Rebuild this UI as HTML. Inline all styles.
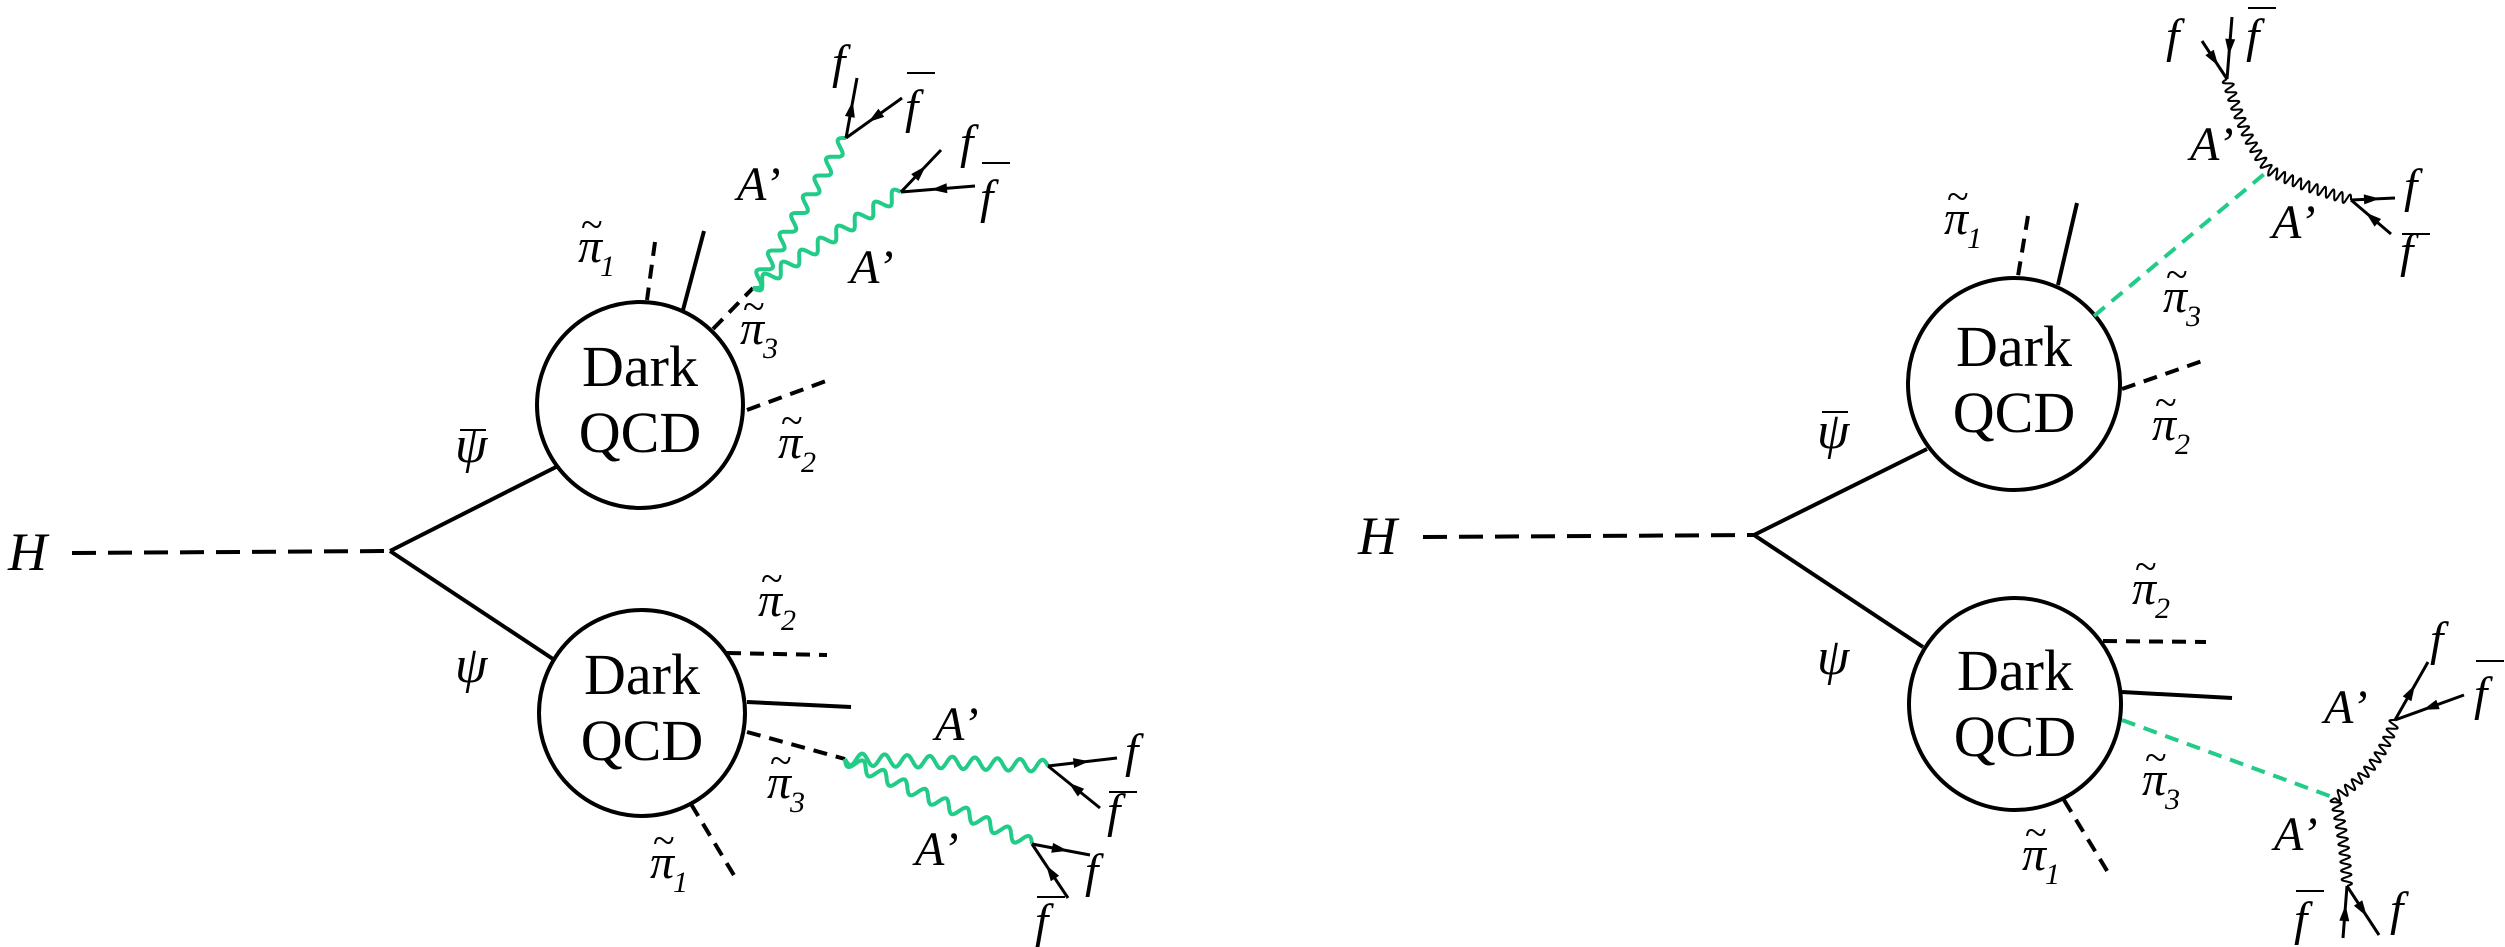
<!DOCTYPE html>
<html><head><meta charset="utf-8"><style>
html,body{margin:0;padding:0;background:#fff}
svg{display:block;font-family:"Liberation Serif","DejaVu Serif",serif}
svg text{font-family:"Liberation Serif","DejaVu Serif",serif;fill:#000}
.i{font-style:italic;font-size:48px}
.s{font-style:italic;font-size:30px}
.t{font-size:40px}
.q{font-size:58px}
</style></head><body>
<svg id="s" width="2505" height="947" viewBox="0 0 2505 947" xmlns="http://www.w3.org/2000/svg">
<g stroke="#000" stroke-width="4" fill="none">
<line x1="72" y1="553" x2="390" y2="551" stroke-dasharray="24,12"/>
<line x1="390" y1="551" x2="558" y2="466"/>
<line x1="390" y1="551" x2="553" y2="659"/>
<circle cx="640" cy="405" r="103"/>
<circle cx="642" cy="713" r="103"/>
<line x1="655" y1="242" x2="647" y2="300" stroke-dasharray="14,9"/>
<line x1="704" y1="231" x2="683" y2="310"/>
<line x1="713" y1="329" x2="753" y2="288" stroke-dasharray="14,9"/>
<line x1="747" y1="410" x2="826" y2="381" stroke-dasharray="14,9"/>
<line x1="727" y1="653" x2="827" y2="655" stroke-dasharray="14,9"/>
<line x1="747" y1="702" x2="851" y2="707"/>
<line x1="747" y1="732" x2="845" y2="759" stroke-dasharray="14,9"/>
<line x1="691" y1="804" x2="735" y2="877" stroke-dasharray="14,9"/>
<line x1="1423" y1="537" x2="1754" y2="535" stroke-dasharray="24,12"/>
<line x1="1754" y1="535" x2="1927" y2="449"/>
<line x1="1754" y1="535" x2="1923" y2="647"/>
<circle cx="2014" cy="384" r="106"/>
<circle cx="2015" cy="704" r="106"/>
<line x1="2028" y1="216" x2="2018" y2="276" stroke-dasharray="14,9"/>
<line x1="2077" y1="203" x2="2058" y2="285"/>
<line x1="2094" y1="316" x2="2269" y2="170" stroke-dasharray="14,9" stroke="#22cc88"/>
<line x1="2122" y1="389" x2="2208" y2="359" stroke-dasharray="14,9"/>
<line x1="2103" y1="641" x2="2206" y2="642" stroke-dasharray="14,9"/>
<line x1="2122" y1="692" x2="2232" y2="698"/>
<line x1="2122" y1="720" x2="2335" y2="798" stroke-dasharray="14,9" stroke="#22cc88"/>
<line x1="2064" y1="800" x2="2109" y2="874" stroke-dasharray="14,9"/>
</g>
<g id="w"></g>
<g id="a"></g>
<text class="i" x="8" y="570" style="font-size:54px">H</text>
<text class="q" x="640" y="386" text-anchor="middle">Dark</text>
<text class="q" x="640" y="452" text-anchor="middle">QCD</text>
<text class="q" x="642" y="694" text-anchor="middle">Dark</text>
<text class="q" x="642" y="760" text-anchor="middle">QCD</text>
<text class="i" x="455" y="462" style="font-size:52px">ψ</text><line x1="460" y1="430" x2="486" y2="430" stroke="#000" stroke-width="2"/>
<text class="i" x="455" y="682" style="font-size:52px">ψ</text>
<text class="i" x="578" y="262">π</text><text class="t" x="581" y="238">~</text><text class="s" x="600" y="276">1</text>
<text class="i" x="740" y="344">π</text><text class="t" x="743" y="320">~</text><text class="s" x="763" y="358">3</text>
<text class="i" x="778" y="458">π</text><text class="t" x="781" y="434">~</text><text class="s" x="801" y="472">2</text>
<text class="i" x="758" y="616">π</text><text class="t" x="761" y="592">~</text><text class="s" x="781" y="630">2</text>
<text class="i" x="767" y="798">π</text><text class="t" x="770" y="774">~</text><text class="s" x="790" y="812">3</text>
<text class="i" x="650" y="878">π</text><text class="t" x="653" y="854">~</text><text class="s" x="673" y="892">1</text>
<text class="i" x="832" y="78">f</text>
<text class="i" x="905" y="123">f</text><line x1="907" y1="73" x2="935" y2="73" stroke="#000" stroke-width="2"/>
<text class="i" x="960" y="158">f</text>
<text class="i" x="980" y="213">f</text><line x1="982" y1="163" x2="1010" y2="163" stroke="#000" stroke-width="2"/>
<text class="i" x="737" y="200">A’</text>
<text class="i" x="850" y="283">A’</text>
<text class="i" x="935" y="740">A’</text>
<text class="i" x="915" y="865">A’</text>
<text class="i" x="1125" y="767">f</text>
<text class="i" x="1107" y="827">f</text><line x1="1109" y1="792" x2="1137" y2="792" stroke="#000" stroke-width="2"/>
<text class="i" x="1085" y="887">f</text>
<text class="i" x="1035" y="937">f</text><line x1="1037" y1="897" x2="1065" y2="897" stroke="#000" stroke-width="2"/>
<text class="i" x="1358" y="554" style="font-size:54px">H</text>
<text class="q" x="2014" y="366" text-anchor="middle">Dark</text>
<text class="q" x="2014" y="432" text-anchor="middle">QCD</text>
<text class="q" x="2015" y="690" text-anchor="middle">Dark</text>
<text class="q" x="2015" y="756" text-anchor="middle">QCD</text>
<text class="i" x="1817" y="448" style="font-size:52px">ψ</text><line x1="1822" y1="412" x2="1848" y2="412" stroke="#000" stroke-width="2"/>
<text class="i" x="1817" y="674" style="font-size:52px">ψ</text>
<text class="i" x="1944" y="234">π</text><text class="t" x="1947" y="210">~</text><text class="s" x="1967" y="248">1</text>
<text class="i" x="2163" y="312">π</text><text class="t" x="2166" y="288">~</text><text class="s" x="2186" y="326">3</text>
<text class="i" x="2152" y="440">π</text><text class="t" x="2155" y="416">~</text><text class="s" x="2175" y="454">2</text>
<text class="i" x="2132" y="604">π</text><text class="t" x="2135" y="580">~</text><text class="s" x="2155" y="618">2</text>
<text class="i" x="2142" y="795">π</text><text class="t" x="2145" y="771">~</text><text class="s" x="2165" y="809">3</text>
<text class="i" x="2022" y="870">π</text><text class="t" x="2025" y="846">~</text><text class="s" x="2045" y="884">1</text>
<text class="i" x="2166" y="52">f</text>
<text class="i" x="2246" y="52">f</text><line x1="2248" y1="8" x2="2276" y2="8" stroke="#000" stroke-width="2"/>
<text class="i" x="2190" y="160">A’</text>
<text class="i" x="2272" y="238">A’</text>
<text class="i" x="2404" y="202">f</text>
<text class="i" x="2400" y="267">f</text><line x1="2402" y1="234" x2="2430" y2="234" stroke="#000" stroke-width="2"/>
<text class="i" x="2324" y="723">A’</text>
<text class="i" x="2274" y="850">A’</text>
<text class="i" x="2430" y="655">f</text>
<text class="i" x="2474" y="710">f</text><line x1="2476" y1="661" x2="2504" y2="661" stroke="#000" stroke-width="2"/>
<text class="i" x="2294" y="935">f</text><line x1="2296" y1="891" x2="2324" y2="891" stroke="#000" stroke-width="2"/>
<text class="i" x="2390" y="925">f</text>
</svg>
<script>
var NS="http://www.w3.org/2000/svg";
function wave(pts,amp,wl,col,sw){
 var L=[0];for(var i=1;i<pts.length;i++){L.push(L[i-1]+Math.hypot(pts[i][0]-pts[i-1][0],pts[i][1]-pts[i-1][1]));}
 var tot=L[L.length-1],n=Math.max(1,Math.round(tot/wl)),k=2*Math.PI*n/tot,d="";
 for(var i=0;i<pts.length;i++){var j=Math.min(i,pts.length-2);var dx=pts[j+1][0]-pts[j][0],dy=pts[j+1][1]-pts[j][1],m=Math.hypot(dx,dy);
  var nx=-dy/m,ny=dx/m,o=amp*Math.sin(k*L[i]);d+=(i?"L":"M")+(pts[i][0]+nx*o).toFixed(1)+","+(pts[i][1]+ny*o).toFixed(1);}
 var p=document.createElementNS(NS,"path");p.setAttribute("d",d);p.setAttribute("fill","none");p.setAttribute("stroke",col);p.setAttribute("stroke-width",sw);
 document.getElementById("w").appendChild(p);}
function lin(a,b){var r=[];for(var i=0;i<=400;i++){var t=i/400;r.push([a[0]+(b[0]-a[0])*t,a[1]+(b[1]-a[1])*t]);}return r;}
function quad(a,c,b){var r=[];for(var i=0;i<=800;i++){var t=i/800,u=1-t;r.push([u*u*a[0]+2*u*t*c[0]+t*t*b[0],u*u*a[1]+2*u*t*c[1]+t*t*b[1]]);}return r;}
var G="#22cc88";
wave(lin([753,288],[846,138]),6,22,G,4);
wave(lin([753,288],[901,192]),6,22,G,4);
wave(lin([845,759],[1048,766]),6,22,G,4);
wave(lin([845,759],[1032,844]),6,22,G,4);
wave(quad([2269,170],[2244,140],[2227,79]),5,9,"#000",2);
wave(quad([2269,170],[2290,182],[2351,200]),5,9,"#000",2);
wave(quad([2335,798],[2380,770],[2395,720]),5,9,"#000",2);
wave(quad([2335,798],[2345,840],[2347,886]),5,9,"#000",2);
function arr(x1,y1,x2,y2){var g=document.getElementById("a");
 var l=document.createElementNS(NS,"line");l.setAttribute("x1",x1);l.setAttribute("y1",y1);l.setAttribute("x2",x2);l.setAttribute("y2",y2);l.setAttribute("stroke","#000");l.setAttribute("stroke-width",3);g.appendChild(l);
 var mx=(x1+x2)/2,my=(y1+y2)/2,dx=x2-x1,dy=y2-y1,m=Math.hypot(dx,dy);dx/=m;dy/=m;
 var tx=mx+dx*7,ty=my+dy*7,bx=mx-dx*9,by=my-dy*9;
 var p=document.createElementNS(NS,"polygon");p.setAttribute("points",tx+","+ty+" "+(bx-dy*5)+","+(by+dx*5)+" "+(bx+dy*5)+","+(by-dx*5));g.appendChild(p);}
arr(846,138,857,78); arr(902,98,846,138);
arr(901,192,941,150); arr(975,186,901,192);
arr(1048,766,1117,758); arr(1100,808,1048,766);
arr(1032,844,1090,855); arr(1068,898,1032,844);
arr(2202,41,2227,79); arr(2232,17,2227,79);
arr(2351,200,2395,198); arr(2391,234,2351,200);
arr(2395,720,2428,662); arr(2464,695,2395,720);
arr(2343,938,2347,886); arr(2347,886,2379,935);
</script>
</body></html>
